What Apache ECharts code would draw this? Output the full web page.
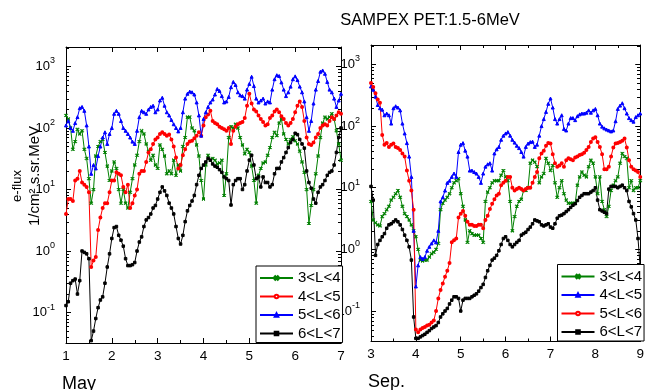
<!DOCTYPE html>
<html>
<head>
<meta charset="utf-8">
<script src="https://cdn.jsdelivr.net/npm/echarts@6/dist/echarts.min.js"></script>
<style>
html, body { margin: 0; padding: 0; background: #fff; }
#chart { width: 647px; height: 390px; }
</style>
</head>
<body>
<div id="chart"></div>
<script>
// series names, legend order per panel
const mayNames = ['3<L<4', '4<L<5', '5<L<6', '6<L<7'];
const sepNames = ['Sep 3<L<4', 'Sep 4<L<5', 'Sep 5<L<6', 'Sep 6<L<7'];

// one sample every 0.05 day
const step = 0.05;
const mayStart = 1;
const sepStart = 3;

// May, days 1..7
const mayGreen = [
  160, 140, 100, 45, 60, 95, 80, 90, 45, 32,
  15, 6, 10, 35, 50, 60, 65, 40, 24, 14,
  20, 28, 22, 10, 6, 10, 6, 5, 9, 15,
  25, 36, 60, 90, 80, 55, 42, 30, 36, 25,
  22, 53, 45, 35, 18, 20, 18, 30, 17, 25,
  20, 50, 70, 150, 150, 100, 90, 53, 35, 14,
  7, 25, 36, 30, 32, 30, 26, 27, 30, 8,
  18, 70, 105, 100, 115, 100, 70, 53, 38, 45,
  40, 24, 14, 6, 17, 22, 27, 28, 36, 48,
  70, 85, 75, 120, 140, 80, 65, 55, 65, 72,
  62, 55, 42, 28, 19, 10, 2.8, 5.5, 10, 18,
  35, 70, 120, 150, 140, 150, 170, 140, 90, 55,
  30
];
const mayRed = [
  4, 7, 7, 6.5, 14, 15, 20, 13, 12, 11,
  9, 0.55, 0.7, 0.8, 2.2, 3.5, 5, 6, 6, 9,
  14, 14, 19, 18, 17, 11, 9, 12, 5, 6,
  8, 10, 18, 20, 20, 28, 40, 45, 55, 65,
  70, 80, 85, 80, 75, 78, 65, 50, 33, 22,
  25, 36, 45, 55, 60, 62, 68, 75, 85, 75,
  110, 150, 165, 190, 130, 120, 115, 105, 100, 95,
  90, 100, 55, 90, 105, 115, 120, 125, 145, 230,
  360, 250, 200, 185, 160, 140, 125, 110, 115, 145,
  160, 185, 200, 180, 155, 140, 120, 110, 120, 140,
  180, 230, 270, 220, 130, 70, 55, 53, 58, 70,
  80, 100, 110, 115, 110, 130, 150, 140, 160, 180,
  170
];
const mayBlue = [
  110, 130, 100, 90, 120, 150, 210, 220, 190, 110,
  50, 18, 25, 22, 35, 50, 70, 85, 55, 80,
  100, 170, 190, 170, 130, 100, 90, 80, 70, 60,
  55, 90, 150, 190, 180, 170, 200, 220, 230, 180,
  200, 280, 310, 230, 180, 160, 135, 115, 100, 88,
  100, 180, 300, 360, 390, 380, 350, 260, 160, 75,
  140, 180, 220, 260, 290, 350, 430, 400, 330, 260,
  270, 320, 460, 560, 500, 380, 340, 330, 300, 420,
  520, 680, 480, 300, 260, 280, 300, 250, 270, 260,
  420, 620, 720, 700, 550, 420, 330, 380, 470, 620,
  690, 600, 470, 380, 270, 150, 90, 130, 250, 420,
  580, 820, 860, 760, 560, 420, 380, 300, 220, 280,
  360
];
const mayBlack = [
  0.13, 0.15, 0.3, 0.33, 0.35, 0.2, 0.33, 1.0, 0.95, 0.9,
  0.75, 0.035, 0.05, 0.08, 0.12, 0.16, 0.18, 0.3, 0.55, 0.9,
  1.6, 2.4, 2.5, 1.8, 1.5, 1.2, 0.75, 0.58, 0.58, 0.6,
  0.65, 1.0, 1.4, 1.7, 2.5, 3.2, 3.5, 4.0, 5.0, 5.5,
  7, 9, 11, 9.5, 8, 6, 5, 4, 2.5, 1.6,
  1.3, 1.8, 3, 4.5, 5.5, 6.5, 8, 12, 17, 22,
  25, 28, 32, 30, 26, 24, 23, 21, 19, 16,
  15, 14, 5.6, 12, 14, 15, 15, 10, 12, 20,
  30, 36, 25, 15, 16, 11, 16, 13, 13, 11,
  12, 18, 22, 22, 28, 33, 40, 48, 58, 65,
  82, 78, 65, 55, 47, 20, 13, 10.5, 7, 6,
  9, 11, 12, 14, 17, 19, 20, 25, 40, 70,
  100
];

// September, days 3..9
const sepGreen = [
  6, 3, 2.7, 2.5, 2.4, 3.4, 3.8, 4.4, 5, 6.3,
  7, 8, 9, 7, 5, 3.8, 3.4, 3, 2.5, 2,
  1.6, 1, 0.67, 0.65, 0.67, 0.67, 0.75, 0.85, 0.9, 1,
  1.25, 4.4, 5.6, 6.3, 7, 8, 10, 12, 13, 14,
  8, 5, 3, 1.3, 2, 1.8, 1.7, 1.7, 1.7, 1.5,
  1.3, 6, 8.5, 10, 12, 13, 13, 13, 16, 19,
  15, 13, 6, 2, 3.4, 5, 6, 6.5, 9, 9,
  10, 25, 28, 26, 22, 12, 15, 17, 30, 25,
  19, 23, 12, 7, 10, 13, 8, 6.3, 5.6, 5.6,
  5.6, 5.6, 11, 15, 18, 16, 15, 22, 28, 25,
  15, 8, 15, 6, 4.4, 3.4, 5, 9, 11, 13,
  15, 25, 36, 32, 30, 10, 13, 9, 10, 10,
  13
];
const sepBlue = [
  440, 390, 300, 220, 195, 185, 150, 160, 150, 110,
  195, 210, 200, 180, 110, 76, 53, 32, 15, 2,
  0.25, 0.55, 0.75, 0.7, 0.75, 0.95, 1.1, 1.25, 1.4, 1.3,
  2, 6, 7, 9, 12, 13, 15, 17, 15, 38,
  50, 53, 40, 32, 19, 19, 18, 17, 15, 12,
  17, 22, 24, 25, 19, 36, 42, 46, 60, 70,
  76, 80, 70, 60, 54, 48, 44, 38, 32, 46,
  52, 55, 56, 46, 50, 70, 100, 130, 170, 230,
  280, 200, 130, 110, 130, 150, 90, 85, 110, 135,
  135, 125, 145, 155, 160, 160, 165, 180, 165, 180,
  190, 150, 110, 98, 92, 88, 85, 82, 85, 120,
  190, 215, 235, 195, 160, 135, 125, 118, 140, 150,
  160
];
const sepRed = [
  500, 430, 340, 270, 240, 72, 50, 53, 46, 50,
  52, 46, 44, 41, 36, 32, 19, 13, 9, 4.4,
  0.05, 0.045, 0.05, 0.053, 0.055, 0.058, 0.06, 0.065, 0.07, 0.1,
  0.16, 0.22, 0.28, 0.36, 0.45, 0.6, 1.3, 1.4, 1.5, 3.3,
  3.8, 4.2, 3.5, 2.8, 2.5, 2.5, 2.4, 2.4, 2.5, 2.5,
  2.2, 3, 3.5, 4.5, 5.5, 6.5, 7.5, 8, 11, 12,
  13, 15, 15, 10, 9, 9.5, 10, 9.5, 9, 9.5,
  10, 10, 12, 15, 18, 30, 36, 40, 48, 53,
  52, 35, 25, 22, 23, 25, 22, 28, 30, 29,
  28, 31, 32, 34, 35, 37, 41, 46, 55, 63,
  66, 55, 46, 35, 20, 20, 22, 32, 45, 52,
  53, 55, 58, 63, 45, 28, 22, 20, 19, 18,
  15
];
const sepBlack = [
  10.5, 6.3, 0.8, 1.2, 1.4, 1.6, 1.8, 2.2, 2.5, 2.6,
  2.8, 3, 2.8, 2.5, 2.1, 1.7, 1.4, 1.1, 0.67, 0.08,
  0.036, 0.036, 0.038, 0.04, 0.042, 0.045, 0.048, 0.052, 0.055, 0.058,
  0.065, 0.08, 0.09, 0.1, 0.11, 0.13, 0.15, 0.17, 0.17, 0.16,
  0.1, 0.15, 0.16, 0.16, 0.16, 0.17, 0.18, 0.19, 0.21, 0.24,
  0.27, 0.35, 0.45, 0.55, 0.67, 0.72, 0.8, 0.95, 1.2, 1.5,
  1.6, 1.4, 1.2, 1.1, 1.2, 1.3, 1.4, 1.7, 1.8, 1.9,
  2.1, 2.3, 2.6, 3, 2.9, 2.8, 2.5, 2.4, 2.5, 2.6,
  2.3, 2.2, 2.6, 3.2, 3.5, 3.6, 3.8, 4.1, 4.4, 4.8,
  5.2, 5.5, 6.2, 7, 7.5, 8, 8, 8, 8.5, 9,
  10, 6.3, 4.4, 4.2, 4, 3.8, 9.5, 10.5, 10.5, 10.5,
  10, 10.5, 11, 10, 9, 6, 4.9, 3.8, 3, 1.5,
  0.5
];

// log axis minor tick values (2..9 per decade)
const minorTickVals = [
  0.04, 0.05, 0.06, 0.07, 0.08, 0.09,
  0.2, 0.3, 0.4, 0.5, 0.6, 0.7, 0.8, 0.9,
  2, 3, 4, 5, 6, 7, 8, 9,
  20, 30, 40, 50, 60, 70, 80, 90,
  200, 300, 400, 500, 600, 700, 800, 900,
  2000
];

const yMin = 0.032;
const yMax = 2070;
const black = '#000';
const font = 'Liberation Sans';

function times(start, n) {
  var t = [];
  for (var i = 0; i < n; i++) t.push(+(start + i * step).toFixed(2));
  return t;
}

function addLine(name, color, symbol, size, axis, start, vals) {
  var t = times(start, vals.length);
  return {
    name: name, type: 'line', xAxisIndex: axis, yAxisIndex: axis,
    data: vals.map(function (v, i) { return [t[i], v]; }),
    symbol: symbol, symbolSize: size, showSymbol: true,
    lineStyle: {color: color, width: 1},
    itemStyle: {color: color, borderColor: color, borderWidth: 1},
    emphasis: {disabled: true},
    clip: true
  };
}

// minor ticks on both y edges of a grid, placed through the log axis
function minorTicks(axis, xMin, xMax) {
  return {
    type: 'custom', xAxisIndex: axis, yAxisIndex: axis, silent: true, clip: false,
    data: minorTickVals.map(function (v) { return [xMin, v]; }),
    renderItem: function (params, api) {
      var v = api.value(1);
      var l = api.coord([xMin, v]);
      var r = api.coord([xMax, v]);
      var y = Math.round(l[1]) + 0.5;
      var st = {stroke: black, lineWidth: 1};
      return {type: 'group', children: [
        {type: 'line', shape: {x1: Math.round(l[0]), y1: y, x2: Math.round(l[0]) + 3, y2: y}, style: st},
        {type: 'line', shape: {x1: Math.round(r[0]) - 3, y1: y, x2: Math.round(r[0]), y2: y}, style: st}
      ]};
    }
  };
}

function xAxes(grid, min, max) {
  var base = {
    gridIndex: grid, type: 'value', min: min, max: max, interval: 1,
    axisLine: {onZero: false, lineStyle: {color: black, width: 1}},
    axisTick: {inside: true, length: 5, lineStyle: {color: black}},
    minorTick: {show: true, splitNumber: 2, length: 3, lineStyle: {color: black}},
    splitLine: {show: false}
  };
  return [
    Object.assign({}, base, {position: 'bottom',
      axisLabel: {color: black, fontSize: 13.5, margin: 6, fontFamily: font}}),
    Object.assign({}, base, {position: 'top', axisLabel: {show: false}})
  ];
}

function yAxes(grid) {
  var base = {
    gridIndex: grid, type: 'log', logBase: 10, min: yMin, max: yMax,
    axisLine: {show: true, onZero: false, lineStyle: {color: black, width: 1}},
    axisTick: {show: true, inside: true, length: 5, lineStyle: {color: black}},
    minorTick: {show: false},
    splitLine: {show: false}
  };
  return [
    Object.assign({}, base, {position: 'left', axisLabel: {
      margin: 11, showMinLabel: false, showMaxLabel: false,
      formatter: function (v) {
        return '{a|10}{b|' + Math.round(Math.log10(v)) + '}';
      },
      rich: {
        a: {fontSize: 13, fontFamily: font, color: black, lineHeight: 20},
        b: {fontSize: 9, fontFamily: font, color: black, lineHeight: 10, verticalAlign: 'top'}
      }
    }}),
    Object.assign({}, base, {position: 'right', axisLabel: {show: false}})
  ];
}

function legend(left, top, data) {
  return {
    left: left, top: top, orient: 'vertical', data: data,
    itemWidth: 33, itemHeight: 4.5, itemGap: 2.5,
    padding: [4, 2, 1, 3], borderColor: black, borderWidth: 1, borderRadius: 0,
    backgroundColor: '#fff', selectedMode: false,
    textStyle: {fontSize: 15, color: black, fontFamily: font, lineHeight: 16},
    formatter: function (n) { return n.replace('Sep ', ''); }
  };
}

const green = '#008000', red = '#ff0000', blue = '#0000ff';
const cross = 'path://M0,1.5L1.5,0L5,3.5L8.5,0L10,1.5L6.5,5L10,8.5L8.5,10L5,6.5L1.5,10L0,8.5L3.5,5Z';

const chart = echarts.init(document.getElementById('chart'));
chart.setOption({
  animation: false,
  backgroundColor: '#fff',
  textStyle: {fontFamily: font},
  grid: [
    {left: 66, top: 47, width: 275, height: 296},
    {left: 371, top: 45, width: 272, height: 296.5}
  ],
  xAxis: xAxes(0, 1, 7).concat(xAxes(1, 3, 9)),
  yAxis: yAxes(0).concat(yAxes(1)),
  legend: [legend(256, 266, mayNames), legend(557.5, 264.5, sepNames)],
  series: [
    minorTicks(0, 1, 7),
    minorTicks(2, 3, 9),
    addLine(mayNames[0], green, cross, 3, 0, mayStart, mayGreen),
    addLine(mayNames[1], red, 'emptyCircle', 2, 0, mayStart, mayRed),
    addLine(mayNames[2], blue, 'triangle', 3, 0, mayStart, mayBlue),
    addLine(mayNames[3], black, 'rect', 2.5, 0, mayStart, mayBlack),
    addLine(sepNames[0], green, cross, 3, 2, sepStart, sepGreen),
    addLine(sepNames[1], blue, 'triangle', 3, 2, sepStart, sepBlue),
    addLine(sepNames[2], red, 'emptyCircle', 2, 2, sepStart, sepRed),
    addLine(sepNames[3], black, 'rect', 2.5, 2, sepStart, sepBlack)
  ],
  graphic: [
    {type: 'text', x: 430, y: 20, style: {text: 'SAMPEX PET:1.5-6MeV', fontSize: 16.5, fontFamily: font, fill: black, align: 'center', verticalAlign: 'middle'}},
    {type: 'text', x: 62, y: 384, style: {text: 'May', fontSize: 18, fontFamily: font, fill: black, align: 'left', verticalAlign: 'middle'}},
    {type: 'text', x: 368, y: 382, style: {text: 'Sep.', fontSize: 18, fontFamily: font, fill: black, align: 'left', verticalAlign: 'middle'}},
    {type: 'text', x: 17, y: 186, rotation: Math.PI / 2, style: {text: 'e-flux', fontSize: 13, fontFamily: font, fill: black, align: 'center', verticalAlign: 'middle'}},
    {type: 'text', x: 35, y: 176, rotation: Math.PI / 2, style: {text: '1/cm² s.sr.MeV', fontSize: 15, fontFamily: font, fill: black, align: 'center', verticalAlign: 'middle'}}
  ]
});
</script>
</body>
</html>
